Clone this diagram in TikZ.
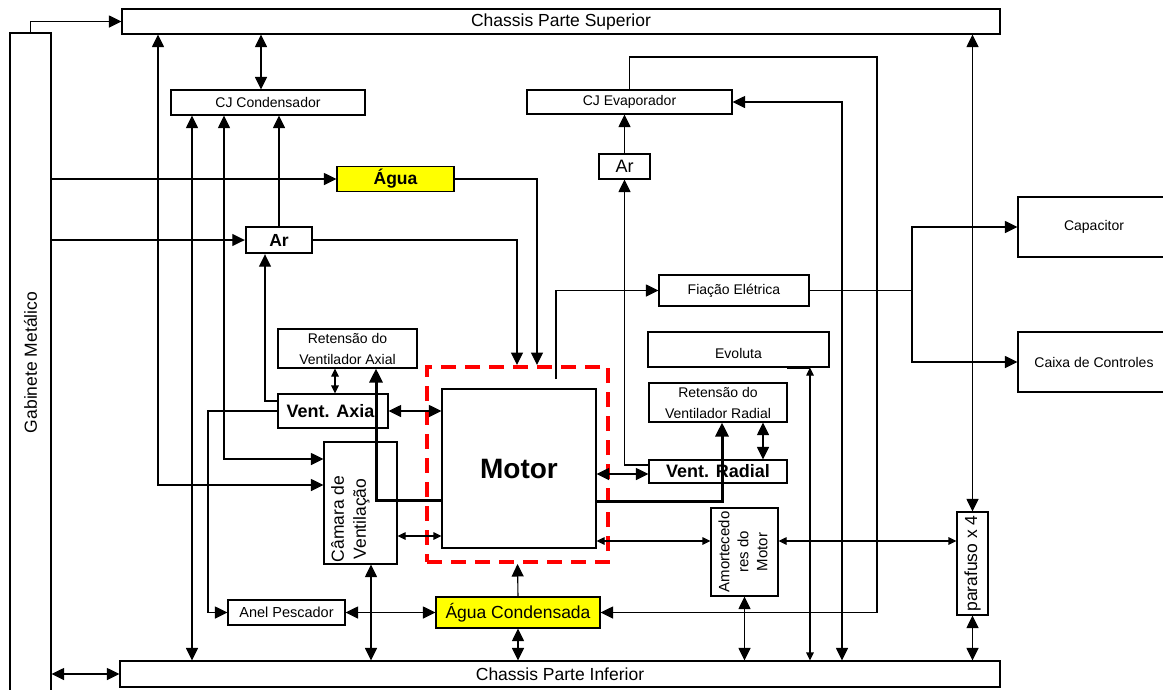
\documentclass[tikz,border=0pt]{standalone}
\usepackage{fontspec}
\setmainfont{Liberation Sans}
\usepackage{graphicx}
\usetikzlibrary{arrows.meta,positioning,calc}
\usepackage{xcolor}
\definecolor{aguayellow}{HTML}{FFFF00}
\definecolor{zonared}{HTML}{FF0000}
\tikzset{
  blk/.style   = {draw, line width=1.1pt, rectangle, inner sep=0pt, align=center,
                  font=\fontsize{14}{21}\selectfont},
  blkbig/.style = {blk, font=\fontsize{17.5}{22}\selectfont},
  blkbold/.style = {blk, font=\fontsize{17.5}{22}\selectfont\bfseries},
  agua/.style  = {blk, fill=aguayellow},
  zona/.style  = {draw=zonared, line width=4pt, dash pattern=on 15pt off 9pt,
                  rectangle, inner sep=0pt},
  sig/.style   = {-{Triangle[length=12.5pt,width=12pt]}, line width=1.1pt},
  dsig/.style  = {{Triangle[length=12.5pt,width=12pt]}-{Triangle[length=12.5pt,width=12pt]}, line width=1.1pt},
  dssig/.style = {{Triangle[length=8pt,width=7.5pt]}-{Triangle[length=8pt,width=7.5pt]}, line width=1.1pt},
  heavy/.style = {-{Triangle[length=14pt,width=13pt]}, line width=3pt},
}

\begin{document}
\begin{tikzpicture}[x=1pt,y=-1pt]
\useasboundingbox (0,0) rectangle (1163,689);
% ---- frame: chassis and cabinet ----
\node[blkbig, minimum width=878, minimum height=25] (chsup) at (561,21.5) {Chassis Parte Superior};
\node[blkbig, minimum width=880, minimum height=26] (chinf) at (560,674) {Chassis Parte Inferior};
\node[blkbig, minimum width=41, minimum height=659] (gab) at (30.5,362.5) {\rotatebox{90}{Gabinete Metálico}};
% ---- left group ----
\node[blk, minimum width=194, minimum height=25] (cjc) at (268,102.5) {CJ Condensador};
\node[agua, font=\fontsize{17.5}{22}\selectfont\bfseries, minimum width=117, minimum height=25.5] (agua) at (395.5,179) {Água};
\node[blkbold, line width=2.4pt, minimum width=66, minimum height=26] (arb) at (279,240) {Ar};
\node[blk, minimum width=139, minimum height=39] (reta) at (347.5,348.5) {Retensão do\\Ventilador Axial};
\node[blkbold, font=\fontsize{18}{22}\selectfont\bfseries, minimum width=110, minimum height=34] (vax) at (333,411) {Vent. Axial};
\node[blkbig, minimum width=73, minimum height=122] (cam) at (360.5,503)
  {\rotatebox{90}{\begin{tabular}{@{}c@{}}Câmara de\\Ventilação\end{tabular}\hspace*{32pt}}\hspace*{20pt}};
\node[blk, font=\fontsize{14.5}{20}\selectfont, minimum width=117, minimum height=25] (anel) at (286.5,612.5) {Anel Pescador};
\node[agua, font=\fontsize{17.5}{22}\selectfont, minimum width=164, minimum height=31] (aguac) at (518,612.5) {Água Condensada};
% ---- motor ----
\node[zona, minimum width=181, minimum height=195] (zona) at (517.5,464.5) {};
\node[blk, font=\fontsize{28}{32}\selectfont\bfseries, minimum width=154, minimum height=159] (motor) at (519,468.5) {Motor};
% ---- right group ----
\node[blk, minimum width=205, minimum height=24] (cjev) at (629.5,102) {CJ Evaporador};
\node[blk, font=\fontsize{18}{22}\selectfont, minimum width=51, minimum height=25] (ar) at (624.5,166.5) {Ar};
\node[blk, minimum width=150, minimum height=31] (fia) at (734,290.5) {Fiação Elétrica};
\node[blk, text height=18pt, text depth=0pt, minimum width=181, minimum height=35] (evo) at (738.5,349.5) {Evoluta};
\node[blk, minimum width=138, minimum height=39] (retr) at (718,402.5) {Retensão do\\Ventilador Radial};
\node[blkbold, font=\fontsize{18}{22}\selectfont\bfseries, minimum width=138, minimum height=23] (vrad) at (718,471.5) {Vent. Radial};
\node[blk, font=\fontsize{15}{19}\selectfont, minimum width=67, minimum height=88] (amort) at (744.5,552)
  {\rotatebox{90}{\begin{tabular}{@{}c@{}}Amortecedo\\res do\\Motor\end{tabular}}};
\node[blkbig, minimum width=31, minimum height=103] (paraf) at (972.5,563.5) {\rotatebox{90}{parafuso x 4}};
\node[blk, minimum width=152, minimum height=60] (cap) at (1094,227) {Capacitor};
\node[blk, minimum width=152, minimum height=60] (caixa) at (1094,362) {Caixa de Controles};
% ---- connectors: left side ----
\draw[sig] (gab.north) |- (chsup.west);
\draw[dsig] (chsup.south -| 261,0) -- (cjc.north -| 261,0);
\draw[dsig] (cam.west |- 0,485) -| (chsup.south -| 158,0);
\draw[dsig] (cjc.south -| 192,0) -- (chinf.north -| 192,0);
\draw[dsig] (cam.west |- 0,459) -| (cjc.south -| 224,0);
\draw[sig] (arb.north) -- (arb.north |- cjc.south);
\draw[sig] (gab.east |- agua.west) -- (agua.west);
\draw[sig] (gab.east |- arb.west) -- (arb.west);
\draw[sig] (agua.east) -| (zona.north -| 537,0);
\draw[sig] (arb.east) -| (zona.north -| 517,0);
\draw[sig] (vax.west |- 0,401) -| (arb.south -| 265,0);
\draw[sig] (vax.west) -| (anel.west -| 208,0) -- (anel.west);
\draw[dssig] (reta.south -| 335,0) -- (vax.north -| 335,0);
\draw[dsig] (vax.east) -- (vax.east -| motor.west);
\draw[dssig] (cam.east |- 0,536) -- (motor.west |- 0,536);
\draw[dsig] (cam.south -| 371,0) -- (chinf.north -| 371,0);
\draw[dsig] (anel.east) -- (aguac.west);
\draw[sig] (aguac.north) -- (zona.south);
\draw[dsig] (aguac.south) -- (aguac.south |- chinf.north);
\draw[dsig] (gab.east |- chinf.west) -- (chinf.west);
% heavy link: motor to axial fan retainer
\draw[heavy] (motor.west |- 0,500) -| (reta.south -| 376,0);
% ---- connectors: right side ----
\draw[sig] (cjev.north) |- (877,57) |- (aguac.east);
\draw[dsig] (cjev.east) -| (chinf.north -| 842,0);
\draw[sig] (ar.north) -- (ar.north |- cjev.south);
\draw[sig] (vrad.west |- 0,465) -| (ar.south);
\draw[dsig] (motor.east |- 0,474) -- (vrad.west |- 0,474);
\draw[dsig] (retr.south -| 763,0) -- (vrad.north -| 763,0);
% heavy link: motor to radial fan retainer
\draw[heavy] (motor.east |- 0,501) -| (retr.south -| 722,0);
\coordinate (fiafree) at (556,379);
\draw[sig] (fiafree) |- (fia.west);
\coordinate (split) at (912,290.5);
\draw (fia.east) -- (split);
\draw[sig] (split) |- (cap.west);
\draw[sig] (split) |- (caixa.west);
\draw[line width=2pt] (evo.south -| 787,0) -- (evo.south -| 810,0);
\draw[dssig] (evo.south -| 810,0) -- (chinf.north -| 810,0);
\draw[dssig] (motor.east |- 0,541) -- (amort.west |- 0,541);
\draw[dssig] (amort.east |- 0,541) -- (paraf.west |- 0,541);
\draw[dsig] (amort.south) -- (amort.south |- chinf.north);
\draw[dsig] (paraf.north) -- (paraf.north |- chsup.south);
\draw[dsig] (paraf.south) -- (paraf.south |- chinf.north);
\end{tikzpicture}
\end{document}
